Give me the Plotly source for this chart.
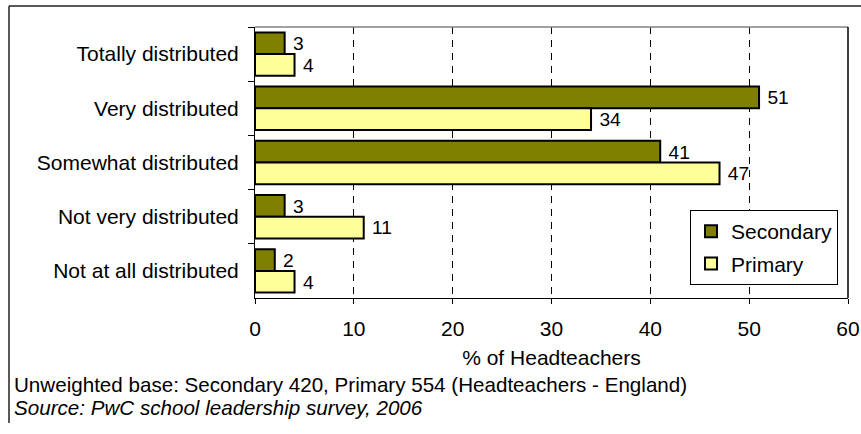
import plotly.graph_objects as go

categories = ["Totally distributed", "Very distributed", "Somewhat distributed",
              "Not very distributed", "Not at all distributed"]
secondary = [3, 51, 41, 3, 2]
primary = [4, 34, 47, 11, 4]
x_ticks = [0, 10, 20, 30, 40, 50, 60]

FONT = "Arial, 'Liberation Sans', sans-serif"
FS = 21

# plot area in pixels
L, R, T, B = 255, 848, 27, 298
W, H = 861, 434
pw, ph = R - L, B - T

def px(x):
    return (x - L) / pw

def py(y):
    return (B - y) / ph

fig = go.Figure()
fig.add_trace(go.Bar(
    y=categories, x=secondary, orientation="h", name="Secondary",
    marker=dict(color="#808000", line=dict(color="black", width=2)),
    text=[" " + str(v) for v in secondary], textposition="outside",
    textfont=dict(family=FONT, size=19.5, color="black"), cliponaxis=False,
    legendgroup="s",
))
fig.add_trace(go.Bar(
    y=categories, x=primary, orientation="h", name="Primary",
    marker=dict(color="#FFFF99", line=dict(color="black", width=2)),
    text=[" " + str(v) for v in primary], textposition="outside",
    textfont=dict(family=FONT, size=19.5, color="black"), cliponaxis=False,
    legendgroup="p",
))

fig.update_layout(
    width=W, height=H,
    margin=dict(l=L, r=W - R, t=T, b=H - B, autoexpand=False),
    paper_bgcolor="white", plot_bgcolor="white",
    barmode="group", bargap=0.2, bargroupgap=0,
    font=dict(family=FONT, size=FS, color="black"),
    showlegend=True,
    legend=dict(
        x=px(690), y=py(210), xanchor="left", yanchor="top",
        bordercolor="black", borderwidth=1, bgcolor="white",
        font=dict(family=FONT, size=FS, color="black"),
        traceorder="grouped", tracegroupgap=2, itemwidth=30,
    ),
    xaxis=dict(
        range=[0, 60], tickvals=x_ticks, ticktext=[str(v) for v in x_ticks],
        showgrid=True, gridcolor="black", gridwidth=1, griddash="7px,6px",
        showline=True, linecolor="black", linewidth=1,
        ticks="outside", ticklen=5, tickcolor="black",
        zeroline=False, ticklabelstandoff=7,
        title=dict(text="% of Headteachers", standoff=11,
                   font=dict(family=FONT, size=FS, color="black")),
        fixedrange=True,
    ),
    yaxis=dict(
        autorange="reversed", type="category",
        showline=True, linecolor="black", linewidth=1,
        ticks="outside", ticklen=6, tickcolor="black", tickson="boundaries",
        showgrid=False, ticklabelstandoff=11,
        fixedrange=True,
    ),
)

# plot area border: top gray, right black
fig.add_shape(type="line", xref="paper", yref="paper", x0=0, x1=1, y0=1, y1=1,
              line=dict(color="#808080", width=1.5))
fig.add_shape(type="line", xref="paper", yref="paper", x0=1, x1=1, y0=0, y1=1,
              line=dict(color="black", width=1.5))

# outer frame
fig.add_shape(type="line", xref="paper", yref="paper",
              x0=px(9), x1=px(861), y0=py(6), y1=py(6),
              line=dict(color="#222222", width=1.5))
fig.add_shape(type="line", xref="paper", yref="paper",
              x0=px(9), x1=px(9), y0=py(6), y1=py(423),
              line=dict(color="#222222", width=1.5))

fig.add_annotation(
    xref="paper", yref="paper", x=px(12), y=py(385), xanchor="left", yanchor="middle",
    text="Unweighted base: Secondary 420, Primary 554 (Headteachers - England)",
    showarrow=False, font=dict(family=FONT, size=20.6, color="black"),
)
fig.add_annotation(
    xref="paper", yref="paper", x=px(12), y=py(407), xanchor="left", yanchor="middle",
    text="<i>Source: PwC school leadership survey, 2006</i>",
    showarrow=False, font=dict(family=FONT, size=20.6, color="black"),
)

fig.write_html(
    "out.html",
    config={"displayModeBar": False},
    post_script="document.body.style.margin='0';document.body.style.overflow='hidden';",
)
